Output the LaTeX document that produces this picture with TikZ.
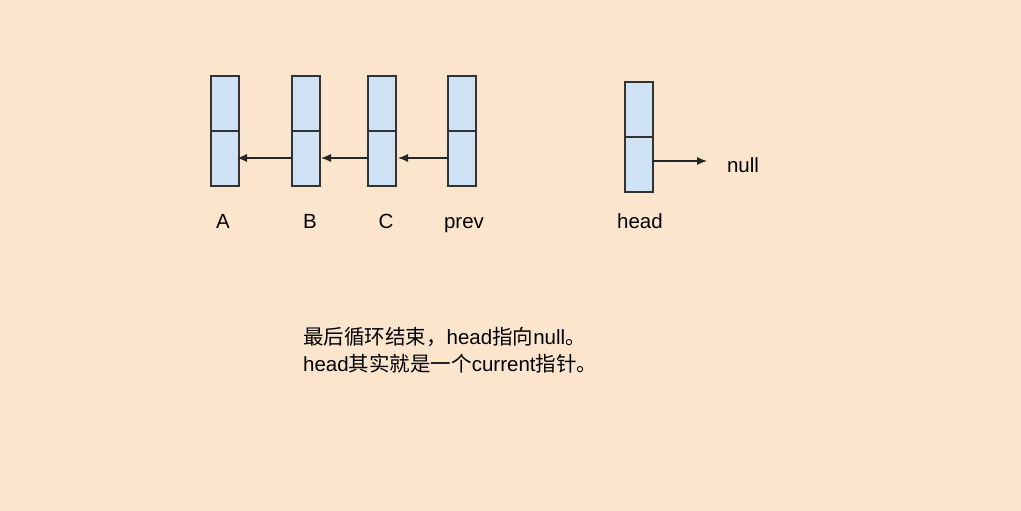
\documentclass[tikz,border=0pt]{standalone}
\usepackage{fontspec}
\setmainfont{Liberation Sans}
\newfontfamily\cjk{Noto Sans CJK SC}
\usetikzlibrary{arrows.meta}
\definecolor{bg}{HTML}{FCE5CD}
\definecolor{cell}{HTML}{CFE2F3}
\definecolor{edge}{HTML}{333333}
\tikzset{
  half/.style={draw=edge, fill=cell, line width=1.1pt, minimum width=28pt, minimum height=55pt, inner sep=0pt, outer sep=0pt},
  lbl/.style={font=\fontsize{20.5}{20.5}\selectfont, text=black, inner sep=0pt, anchor=base},
  ptr/.style={draw=black!85, line width=1.1pt, -{Latex[length=10pt,width=8pt]}}
}
\begin{document}
\begin{tikzpicture}[x=1pt,y=-1pt]
\path[fill=bg] (0,0) rectangle (1021,511);
\useasboundingbox (0,0) rectangle (1021,511);
% A
\node[half] (At) at (225,103.5) {};
\node[half] (Ab) at (225,158.5) {};
% B
\node[half] (Bt) at (306,103.5) {};
\node[half] (Bb) at (306,158.5) {};
% C
\node[half] (Ct) at (382,103.5) {};
\node[half] (Cb) at (382,158.5) {};
% prev
\node[half] (Pt) at (462,103.5) {};
\node[half] (Pb) at (462,158.5) {};
% head
\node[half] (Ht) at (639,109.5) {};
\node[half] (Hb) at (639,164.5) {};
\coordinate (Atip) at (237,158);
\coordinate (Btip) at (321,158);
\coordinate (Ctip) at (398,158);
\coordinate (Ntip) at (707,161);
\draw[ptr] (Pb.west |- Ctip) -- (Ctip);
\draw[ptr] (Cb.west |- Btip) -- (Btip);
\draw[ptr] (Bb.west |- Atip) -- (Atip);
\draw[ptr] (Hb.east |- Ntip) -- (Ntip);
\node[lbl] (lA) at (223,228) {A};
\node[lbl] (lB) at (310,228) {B};
\node[lbl] (lC) at (386,228) {C};
\node[lbl] (lP) at (464,228) {prev};
\node[lbl] (lH) at (640,228) {head};
\node[lbl] (lN) at (743,172) {null};
\node[lbl, anchor=north west, align=left, font=\fontsize{20.5}{27}\selectfont] (note) at (303,327)
  {{\cjk 最后循环结束，}head{\cjk 指向}null{\cjk 。}\\head{\cjk 其实就是一个}current{\cjk 指针。}};
\end{tikzpicture}
\end{document}
